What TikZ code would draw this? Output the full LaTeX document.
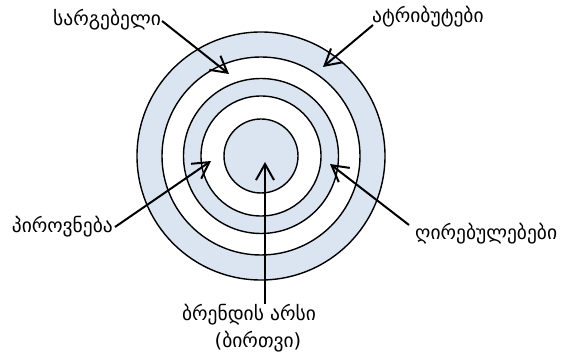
\documentclass[tikz,border=0pt]{standalone}
\usepackage{fontspec}
\setmainfont{DejaVu Sans}
\usetikzlibrary{arrows.meta,calc}
\definecolor{ringblue}{RGB}{219,228,241}
\tikzset{
  lbl/.style={inner sep=0pt, font=\fontsize{19.5}{22}\selectfont},
  ring/.style={draw=black, line width=1.4pt},
  pointer/.style={draw=black, line width=2pt, -{Straight Barb[length=16pt,width=18pt]}}
}
\begin{document}
\begin{tikzpicture}[x=1pt,y=-1pt]
\useasboundingbox (0,0) rectangle (568,358);
\coordinate (c) at (261,156);
\fill[white] (0,0) rectangle (568,358);
\draw[ring, fill=ringblue] (c) circle[radius=124];
\draw[ring, fill=white] (c) circle[radius=99];
\draw[ring, fill=ringblue] (c) circle[radius=77.5];
\draw[ring, fill=white] (c) circle[radius=60];
\draw[ring, fill=ringblue] (c) circle[radius=37];

\node[lbl, anchor=west] (sar) at (53,20) {სარგებელი};
\node[lbl, anchor=west] (atr) at (372,17) {ატრიბუტები};
\node[lbl, anchor=east] (pir) at (113,227) {პიროვნება};
\node[lbl, anchor=west] (ghi) at (415,234) {ღირებულებები};
\node[lbl] (bre) at (249,315) {ბრენდის არსი};
\node[lbl] (bir) at (258,342) {(ბირთვი)};

\coordinate (t1) at (229,74);
\coordinate (t2) at (323,67);
\coordinate (t3) at (211,161);
\coordinate (t4) at (330,164);
\coordinate (t5) at (265,162);
\coordinate (b0) at (265,304);

\draw[pointer] ($(sar.east)+(1,1)$) -- (t1);
\draw[pointer] ($(atr.west)+(1,8)$) -- (t2);
\draw[pointer] ($(pir.east)+(2,0)$) -- (t3);
\draw[pointer] ($(ghi.west)+(-6,-9)$) -- (t4);
\draw[pointer] (b0) -- (t5);
\end{tikzpicture}
\end{document}
